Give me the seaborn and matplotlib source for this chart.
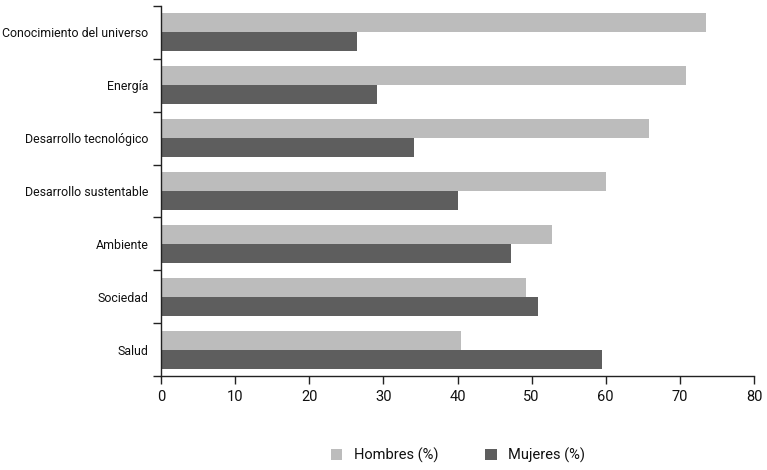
import matplotlib
matplotlib.use("Agg")
import matplotlib.pyplot as plt
import seaborn as sns
import pandas as pd
import numpy as np
from matplotlib.ticker import FixedLocator

categories = ["Conocimiento del universo", "Energía", "Desarrollo tecnológico",
              "Desarrollo sustentable", "Ambiente", "Sociedad", "Salud"]
hombres = [73.5, 70.8, 65.9, 60.0, 52.8, 49.2, 40.5]
mujeres = [26.5, 29.2, 34.1, 40.0, 47.2, 50.8, 59.5]
series_names = ["Hombres (%)", "Mujeres (%)"]
xticks = [0, 10, 20, 30, 40, 50, 60, 70, 80]

sns.set_theme(style="white")
plt.rcParams['font.family'] = ['Roboto', 'DejaVu Sans']

df = pd.DataFrame({
    "cat": categories * 2,
    "val": hombres + mujeres,
    "serie": [series_names[0]] * len(categories) + [series_names[1]] * len(categories),
})

fig = plt.figure(figsize=(7.67, 4.70), dpi=100)
ax = fig.add_axes([161/767, 1-376/470, (754-161)/767, (376-6)/470])
sns.barplot(data=df, y="cat", x="val", hue="serie", orient="h",
            palette=["#bcbcbc", "#5e5e5e"], width=0.72, ax=ax,
            edgecolor="none", linewidth=0, legend=True)

ax.set_xlim(0, 80)
ax.set_ylim(len(categories) - 0.5, -0.5)
ax.set_xticks(xticks)
ax.set_xticklabels([str(t) for t in xticks], fontsize=10.5, color="#111111")
ax.set_xlabel("")
ax.set_ylabel("")
ax.tick_params(axis="y", which="major", length=0, labelsize=8.9, labelcolor="#111111", pad=9)
ax.yaxis.set_minor_locator(FixedLocator(np.arange(-0.5, len(categories), 1.0)))
ax.tick_params(axis="y", which="minor", length=6, width=1, color="#222222", left=True)
ax.tick_params(axis="x", which="major", length=6, width=1, color="#222222", bottom=True, pad=4)
for s in ["top", "right"]:
    ax.spines[s].set_visible(False)
for s in ["left", "bottom"]:
    ax.spines[s].set_color("#222222")
    ax.spines[s].set_linewidth(1)

handles, labels = ax.get_legend_handles_labels()
ax.legend_.remove()
leg = fig.legend(handles, labels, loc="center", bbox_to_anchor=(458/767, 1-455/470),
           ncol=2, frameon=False, fontsize=10.5, handlelength=0.8, handleheight=0.8,
           columnspacing=3.2, handletextpad=0.8)
for t in leg.get_texts():
    t.set_color("#111111")

fig.savefig("out.png", dpi=100)
